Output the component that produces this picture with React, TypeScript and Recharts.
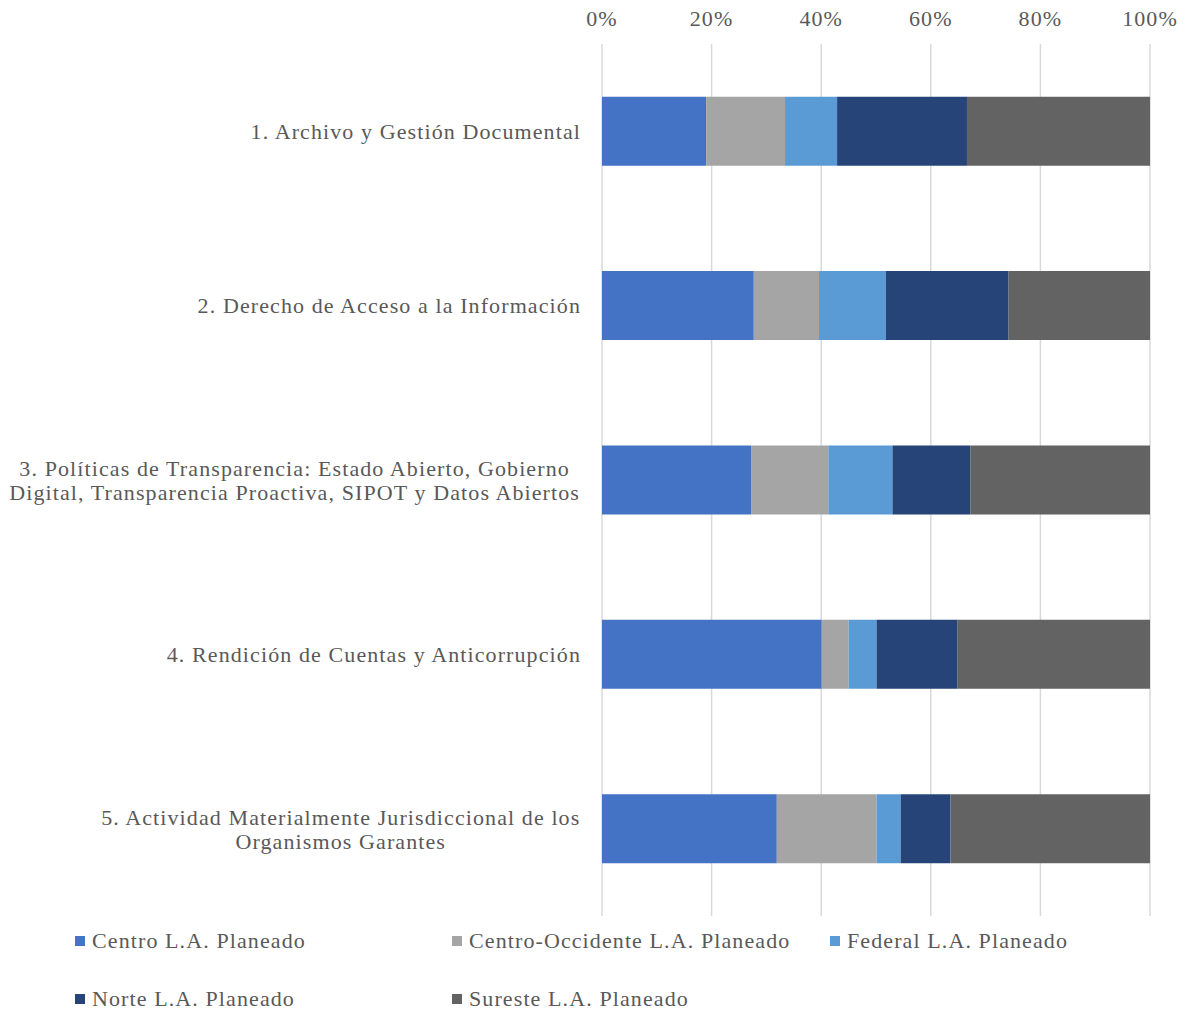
import React from "react";
import { Bar, BarChart, CartesianGrid, XAxis, YAxis } from "recharts";

// categories (\n marks where the original label wraps)
const categories = [
  "1. Archivo y Gestión Documental",
  "2. Derecho de Acceso a la Información",
  "3. Políticas de Transparencia: Estado Abierto, Gobierno\nDigital, Transparencia Proactiva, SIPOT y Datos Abiertos",
  "4. Rendición de Cuentas y Anticorrupción",
  "5. Actividad Materialmente Jurisdiccional de los\nOrganismos Garantes",
];

const seriesNames = [
  "Centro L.A. Planeado",
  "Centro-Occidente L.A. Planeado",
  "Federal L.A. Planeado",
  "Norte L.A. Planeado",
  "Sureste L.A. Planeado",
];

const seriesColors = ["#4472C4", "#A5A5A5", "#5B9BD5", "#264478", "#636363"];

// share per category, in percent
const centro = [19.0, 27.7, 27.2, 40.1, 31.9];
const centroOccidente = [14.4, 11.9, 14.1, 4.9, 18.2];
const federal = [9.5, 12.2, 11.7, 5.1, 4.4];
const norte = [23.7, 22.4, 14.2, 14.8, 9.1];
const sureste = [33.4, 25.8, 32.8, 35.1, 36.4];

const xTicks = [0, 0.2, 0.4, 0.6, 0.8, 1];

const seriesValues = [centro, centroOccidente, federal, norte, sureste];
const keys = ["s0", "s1", "s2", "s3", "s4"];

const data = categories.map((name, i) => {
  const row: Record<string, unknown> = { name };
  keys.forEach((k, j) => (row[k] = seriesValues[j][i]));
  return row;
});

const FONT = '"Liberation Serif", "Times New Roman", serif';
const TEXT = "#595959";
const FS = 22;
const LS = 1.1;

let ctx: CanvasRenderingContext2D | null = null;
const measure = (s: string) => {
  if (!ctx) {
    ctx = document.createElement("canvas").getContext("2d");
    if (ctx) {
      ctx.font = `${FS}px ${FONT}`;
      (ctx as any).letterSpacing = `${LS}px`;
    }
  }
  return ctx ? ctx.measureText(s).width : s.length * FS * 0.45;
};

function CategoryTick({ x, y, payload }: any) {
  const lines = String(payload.value).split("\n");
  if (lines.length === 1) {
    return (
      <text x={x} y={y} dy="0.35em" textAnchor="end" fill={TEXT} fontSize={FS} fontFamily={FONT} letterSpacing={LS}>
        {lines[0]}
      </text>
    );
  }
  const w = Math.max(...lines.map(measure));
  const cx = x - w / 2;
  return (
    <text textAnchor="middle" fill={TEXT} fontSize={FS} fontFamily={FONT} letterSpacing={LS}>
      {lines.map((l, i) => (
        <tspan key={i} x={cx} y={y + (i - (lines.length - 1) / 2) * 24} dy="0.35em">
          {l}
        </tspan>
      ))}
    </text>
  );
}

const legendPos = [
  [75, 941],
  [452, 941],
  [830, 941],
  [75, 999],
  [452, 999],
];

export default function App() {
  return (
    <div style={{ position: "absolute", left: 0, top: 0, width: 1186, height: 1012, background: "#fff", fontFamily: FONT }}>
      <BarChart
        width={1186}
        height={920}
        data={data}
        layout="vertical"
        stackOffset="expand"
        barCategoryGap="30.2%"
        margin={{ top: 4, right: 36, bottom: 4, left: 0 }}
      >
        <CartesianGrid horizontal={false} stroke="#D9D9D9" strokeWidth={1.5} />
        <XAxis
          type="number"
          orientation="top"
          domain={[0, 1]}
          ticks={xTicks}
          tickFormatter={(v: number) => `${Math.round(v * 100)}%`}
          axisLine={false}
          tickLine={false}
          tickSize={0}
          tickMargin={18}
          height={40}
          tick={{ fill: TEXT, fontSize: FS, fontFamily: FONT, letterSpacing: LS }}
        />
        <YAxis
          type="category"
          dataKey="name"
          width={602}
          axisLine={false}
          tickLine={false}
          tickSize={0}
          tickMargin={21}
          tick={<CategoryTick />}
          interval={0}
        />
        {keys.map((k, j) => (
          <Bar key={k} dataKey={k} name={seriesNames[j]} stackId="a" fill={seriesColors[j]} isAnimationActive={false} />
        ))}
      </BarChart>
      {seriesNames.map((n, j) => (
        <div
          key={n}
          style={{
            position: "absolute",
            left: legendPos[j][0],
            top: legendPos[j][1] - 14,
            height: 28,
            display: "flex",
            alignItems: "center",
            color: TEXT,
            fontSize: FS,
            letterSpacing: LS,
            whiteSpace: "nowrap",
          }}
        >
          <span style={{ display: "inline-block", width: 10, height: 10, background: seriesColors[j], marginRight: 7 }} />
          {n}
        </div>
      ))}
    </div>
  );
}
